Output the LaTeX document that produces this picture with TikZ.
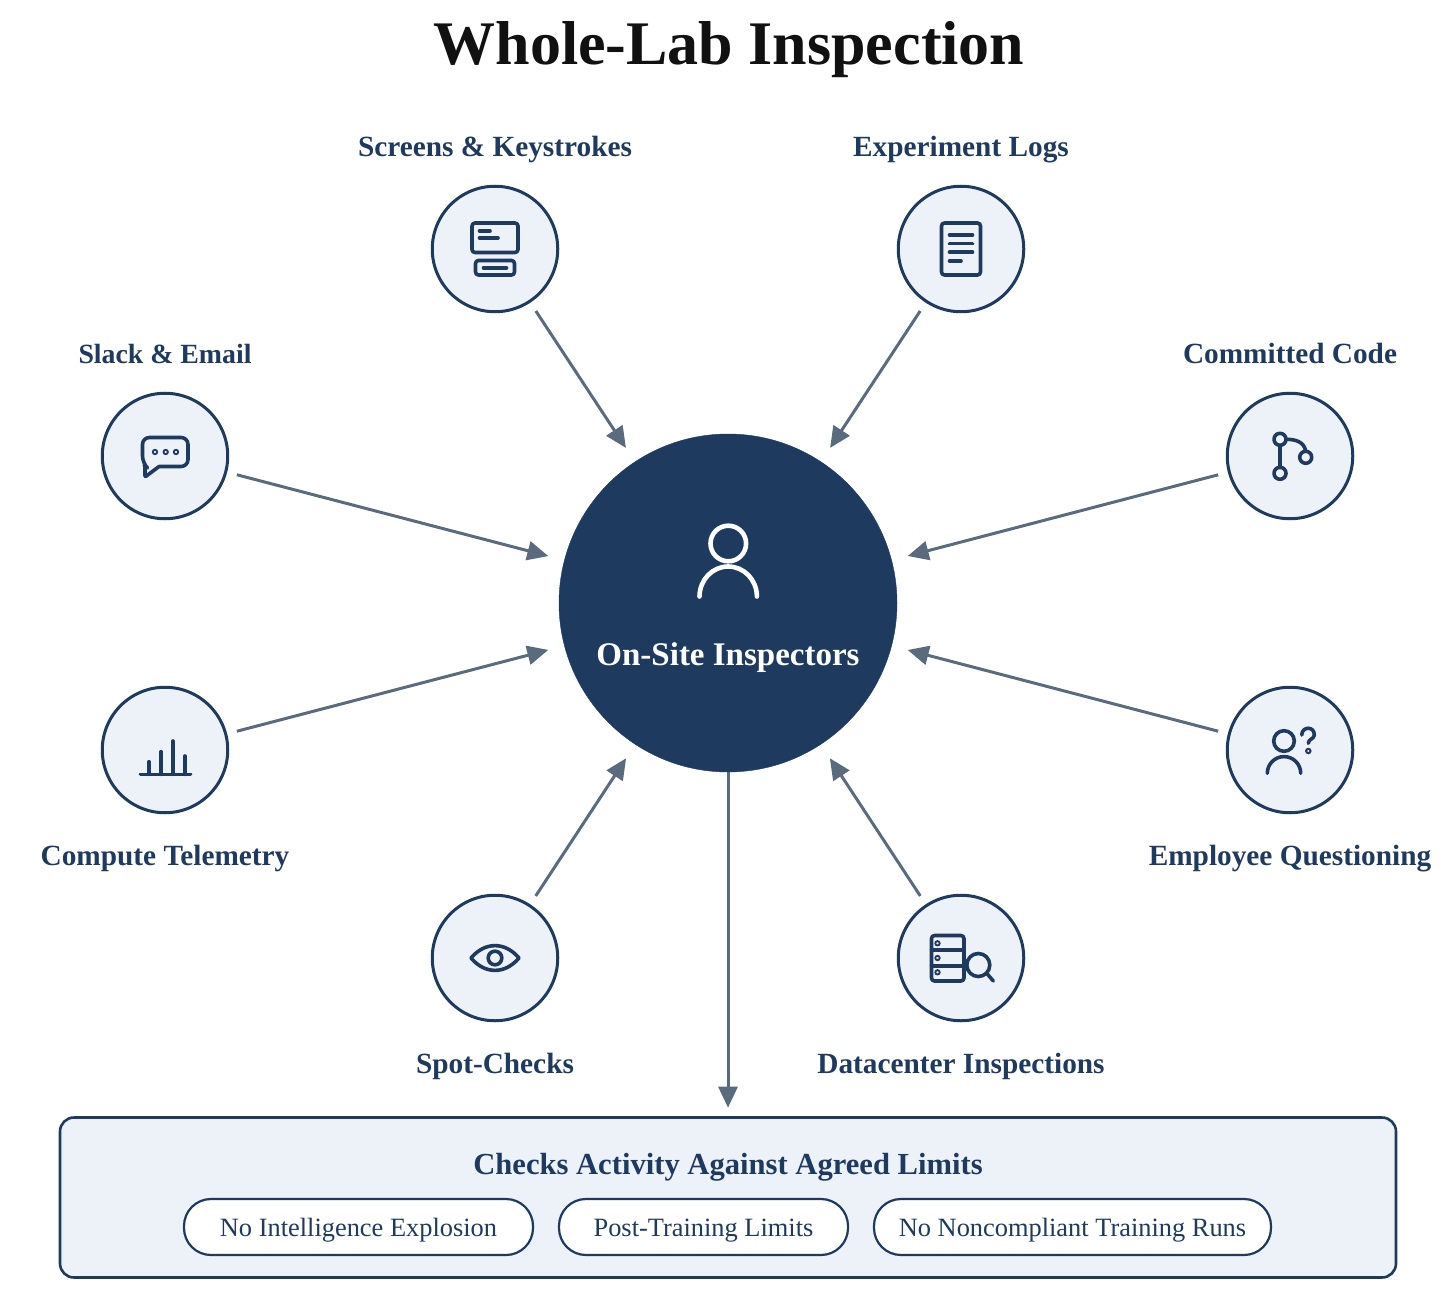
\documentclass[tikz,border=0pt]{standalone}
\usepackage{xcolor}
\usepackage{fontspec}
\setmainfont{Liberation Serif}
\usepackage{tikz}
\usetikzlibrary{positioning, arrows.meta}
\definecolor{inkblue}{HTML}{1F3A5F}
\definecolor{paleblue}{HTML}{EDF1F8}
\definecolor{arrowgrey}{HTML}{5B6B7E}
\definecolor{titleblack}{HTML}{111111}

\tikzset{
    source/.style={circle, draw=inkblue, fill=paleblue, line width=3pt,
                   minimum size=125.5pt, inner sep=0pt},
    sourcelabel/.style={font=\fontsize{29.3}{34}\selectfont\bfseries, text=inkblue,
                        inner sep=0pt, text height=20pt, text depth=7pt},
    feed/.style={draw=arrowgrey, line width=3pt, shorten <=10pt, shorten >=16.5pt,
                 -{Triangle[length=21pt,width=19pt]}},
    limitpill/.style={draw=inkblue, fill=white, line width=2.2pt, rounded corners=27pt,
                      minimum height=56pt, inner sep=0pt, outer sep=0pt, text=inkblue,
                      text height=24pt, text depth=6pt,
                      font=\fontsize{26.4}{32}\selectfont},
    icon/.style={draw=inkblue, line width=3.6pt, line cap=round, line join=round},
}

\begin{document}
\begin{tikzpicture}[x=1pt, y=-1pt]
    \useasboundingbox (0,0) rectangle (1456,1313);

    \node[font=\fontsize{62}{68}\selectfont\bfseries, text=titleblack] (title) at (729,50) {Whole-Lab Inspection};

    % centre
    \node[circle, fill=inkblue, draw=inkblue, minimum size=338pt, inner sep=0pt] (hub) at (728,603) {};
    \node[font=\fontsize{33}{38}\selectfont\bfseries, text=white] (hublabel) at (728,658) {On-Site Inspectors};
    \draw[white, line width=4.6pt, line cap=round] (728.3,543.5) circle (17.8);
    \draw[white, line width=4.6pt, line cap=round] (699.5,596.5) arc[start angle=180, end angle=360, x radius=28.7, y radius=30];

    % sources
    \node[source] (screens) at (495,249) {};
    \node[source] (logs) at (961,249) {};
    \node[source] (slack) at (165,456) {};
    \node[source] (code) at (1290,456) {};
    \node[source] (telemetry) at (165,750) {};
    \node[source] (questioning) at (1290,750) {};
    \node[source] (spot) at (495,958) {};
    \node[source] (datacenter) at (961,958) {};

    \node[sourcelabel, above=21pt of screens] (screenslabel) {Screens \& Keystrokes};
    \node[sourcelabel, above=21pt of logs] (logslabel) {Experiment Logs};
    \node[sourcelabel, above=21pt of slack, font=\fontsize{27.8}{34}\selectfont\bfseries] (slacklabel) {Slack \& Email};
    \node[sourcelabel, above=21pt of code] (codelabel) {Committed Code};
    \node[sourcelabel, below=31pt of telemetry] (telemetrylabel) {Compute Telemetry};
    \node[sourcelabel, below=31pt of questioning] (questioninglabel) {Employee Questioning};
    \node[sourcelabel, below=31pt of spot] (spotlabel) {Spot-Checks};
    \node[sourcelabel, below=31pt of datacenter] (datacenterlabel) {Datacenter Inspections};

    % limits box
    \node[draw=inkblue, fill=paleblue, line width=2.6pt, rounded corners=14pt,
          minimum width=1336pt, minimum height=160pt] (limits) at (728,1197.5) {};
    \node[font=\fontsize{30.6}{36}\selectfont\bfseries, text=inkblue] (limitstitle) at (728,1167) {Checks Activity Against Agreed Limits};
    \node[limitpill, minimum width=349pt] (pillone) at (358.5,1227) {No Intelligence Explosion};
    \node[limitpill, minimum width=289pt, right=26pt of pillone] (pilltwo) {Post-Training Limits};
    \node[limitpill, minimum width=397pt, right=26pt of pilltwo] (pillthree) {No Noncompliant Training Runs};

    % connectors
    \foreach \src in {screens, logs, slack, code, telemetry, questioning, spot, datacenter}
        \draw[feed] (\src) -- (hub);
    \draw[feed, shorten <=0pt, shorten >=8.5pt] (hub) -- (limits);

    % icons
    \begin{scope}[shift={(screens)}]
        \draw[icon, rounded corners=3pt] (-23,-26) rectangle (23,3.5);
        \draw[icon] (-15.5,-18) -- (-5,-18);
        \draw[icon] (-15.5,-11) -- (3,-11);
        \draw[icon, rounded corners=3pt] (-19.5,11.5) rectangle (19.5,26);
        \draw[icon] (-11.5,19) -- (11.5,19);
    \end{scope}
    \begin{scope}[shift={(logs)}]
        \draw[icon, rounded corners=3pt] (-19.5,-26) rectangle (19.5,26);
        \draw[icon] (-11.5,-14) -- (11.5,-14);
        \draw[icon] (-11.5,-5.3) -- (11.5,-5.3);
        \draw[icon] (-11.5,3.3) -- (11.5,3.3);
        \draw[icon] (-11.5,12) -- (0,12);
    \end{scope}
    \begin{scope}[shift={(slack)}]
        \draw[icon] (-6,10.5) [rounded corners=7pt] -- (23,10.5) -- (23,-18.5) -- (-22.5,-18.5) -- (-22.5,7)
            [rounded corners=1pt] -- (-20,9.5) -- (-20,21) [sharp corners] -- (-6,10.5);
        \foreach \dotx in {-10,0.7,11}
            \draw[inkblue, line width=1.8pt] (\dotx,-4) circle (2.2);
    \end{scope}
    \begin{scope}[shift={(code)}]
        \draw[icon] (-10,-10.5) -- (-10,11.5);
        \draw[icon] (-4,-16.7) .. controls (6,-16.7) and (14,-14) .. (15.7,-5);
        \draw[icon] (-10,-16.7) circle (6);
        \draw[icon] (-10,17.3) circle (6);
        \draw[icon] (15.7,1.3) circle (6);
    \end{scope}
    \begin{scope}[shift={(telemetry)}]
        \draw[icon] (-24.5,24.3) -- (25.5,24.3);
        \draw[icon] (-16,24.3) -- (-16,11.7);
        \draw[icon] (-4,24.3) -- (-4,1.7);
        \draw[icon] (8,24.3) -- (8,-9);
        \draw[icon] (20,24.3) -- (20,6);
    \end{scope}
    \begin{scope}[shift={(questioning)}]
        \draw[icon] (-6,-9) circle (10.3);
        \draw[icon] (-22.7,23.3) arc[start angle=180, end angle=360, radius=16.7];
        \draw[icon] (11.7,-15) .. controls (12,-24) and (24.5,-24) .. (24.3,-15)
            .. controls (24.2,-11) and (18.3,-11) .. (18.3,-6.7);
        \draw[inkblue, line width=2pt] (18.3,1) circle (2.2);
    \end{scope}
    \begin{scope}[shift={(spot)}]
        \draw[icon] (-24,0) .. controls (-10,-16.5) and (10,-16.5) .. (24,0)
            .. controls (10,16.5) and (-10,16.5) .. (-24,0);
        \draw[icon] (0,0) circle (6.8);
    \end{scope}
    \begin{scope}[shift={(datacenter)}]
        \draw[icon, rounded corners=3pt] (-29.5,-22.5) rectangle (3,23);
        \draw[icon] (-29.5,-8) -- (3,-8);
        \draw[icon] (-29.5,7.7) -- (3,7.7);
        \foreach \doty in {-14.7,0,14.3}
            \draw[inkblue, line width=1.8pt] (-23.5,\doty) circle (2.2);
        \draw[icon, fill=paleblue] (17.3,7) circle (11.5);
        \draw[icon] (25.7,15.3) -- (32.3,23);
    \end{scope}
\end{tikzpicture}
\end{document}
